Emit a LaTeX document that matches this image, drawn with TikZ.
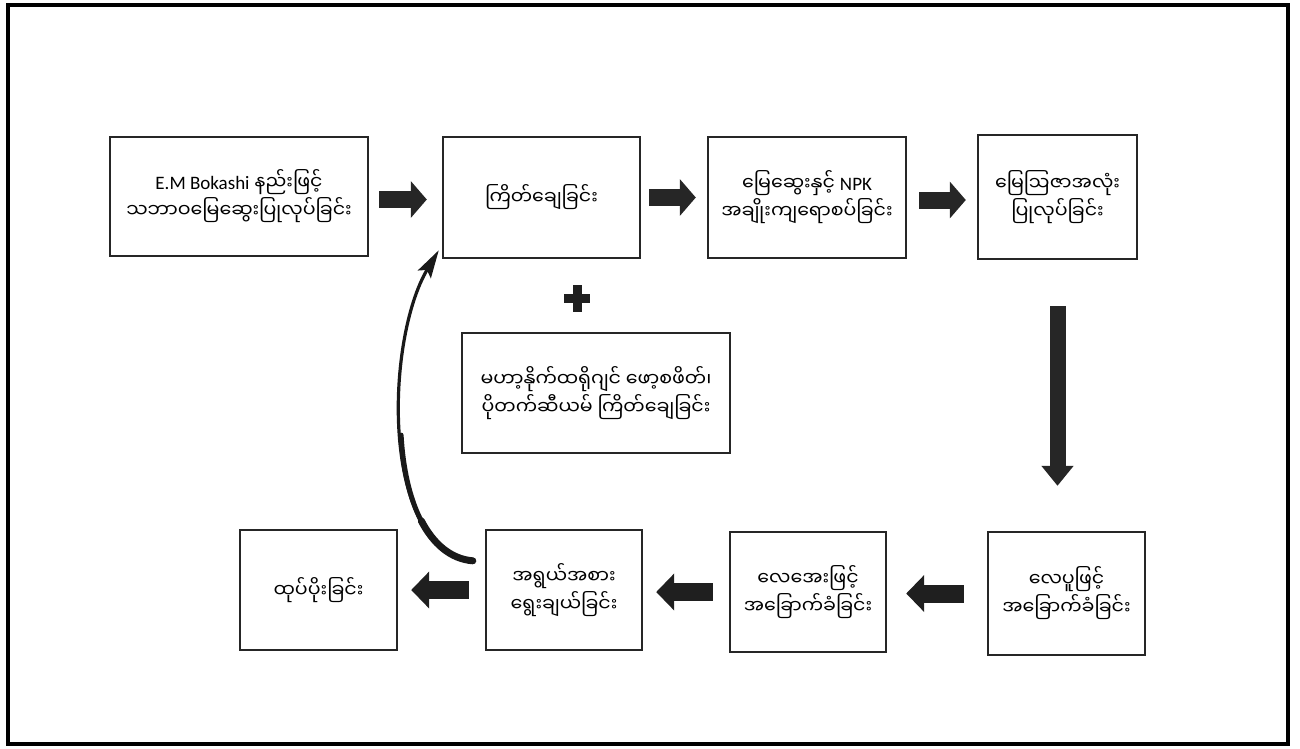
\documentclass[tikz,border=0pt]{standalone}
\usepackage{fontspec}
\setmainfont{Carlito}
\newfontfamily\my[Script=Myanmar]{Noto Sans Myanmar UI}
\newfontfamily\lat{Carlito}
\usetikzlibrary{arrows.meta}
\begin{document}
\begin{tikzpicture}[x=1pt,y=-1pt,
  stepbox/.style={draw=black!85, line width=2.4pt, fill=white, align=center,
    inner sep=0pt, font=\my\fontsize{19}{28}\selectfont},
  blockarrow/.style={draw=black!85, line width=17pt,
    -{Triangle[length=16pt 0,width=36pt 0]}},
  downarrow/.style={draw=black!85, line width=16pt,
    -{Triangle[length=20pt 0,width=31pt 0]}},
  backarrow/.style={draw=black!88, line width=18pt,
    -{Triangle[length=18pt 0,width=36pt 0]}},
  curvearrow/.style={draw=black!90, line width=3.2pt,
    -{Stealth[length=28pt 0,width=15pt 0,inset=5pt]}},
  curvethick/.style={draw=black!90, line cap=round}
]
\useasboundingbox (0,0) rectangle (1300,748);
\draw[line width=4pt, black] (7.5,4.5) rectangle (1288,744);

\node[stepbox, minimum width=258, minimum height=119] (b1) at (239,196.5)
  {{\lat E.M Bokashi} နည်းဖြင့်\\သဘာဝမြေဆွေးပြုလုပ်ခြင်း};
\node[stepbox, minimum width=197, minimum height=121] (b2) at (541.5,197.5)
  {ကြိတ်ချေခြင်း};
\node[stepbox, minimum width=198, minimum height=121] (b3) at (807,197.5)
  {မြေဆွေးနှင့် {\lat NPK}\\အချိုးကျရောစပ်ခြင်း};
\node[stepbox, minimum width=159, minimum height=124] (b4) at (1057.5,197)
  {မြေဩဇာအလုံး\\ပြုလုပ်ခြင်း};
\node[stepbox, minimum width=157, minimum height=123] (b5) at (1066.5,593.5)
  {လေပူဖြင့်\\အခြောက်ခံခြင်း};
\node[stepbox, minimum width=156, minimum height=120] (b6) at (808,592)
  {လေအေးဖြင့်\\အခြောက်ခံခြင်း};
\node[stepbox, minimum width=156, minimum height=120] (b7) at (564,590)
  {အရွယ်အစား\\ရွေးချယ်ခြင်း};
\node[stepbox, minimum width=157, minimum height=120] (b8) at (318.5,590)
  {ထုပ်ပိုးခြင်း};
\node[stepbox, minimum width=268, minimum height=120] (bm) at (596,393)
  {မဟာ့နိုက်ထရိုဂျင် ဖော့စဖိတ်၊\\ပိုတက်ဆီယမ် ကြိတ်ချေခြင်း};

% plus sign
\fill[black!88] (564,294) rectangle (590,303);
\fill[black!88] (572.5,285) rectangle (581.5,312);

% forward arrows
\draw[blockarrow] ([shift={(10pt,-3pt)}]b1.east) -- ([shift={(-15pt,-2pt)}]b2.west);
\draw[blockarrow] ([xshift=8pt]b2.east) -- ([xshift=-11pt]b3.west);
\draw[blockarrow] ([shift={(12pt,-2.5pt)}]b3.east) -- ([shift={(-11pt,-3pt)}]b4.west);
\draw[downarrow] ([yshift=-46pt]b4.south) -- ([yshift=45pt]b4.south |- b5.north);
% backward arrows
\draw[backarrow] ([xshift=-23pt]b5.west) -- ([xshift=19pt]b6.east |- b5.west);
\draw[backarrow] ([xshift=-16pt]b6.west) -- ([xshift=13pt]b7.east |- b6.west);
\draw[backarrow] ([xshift=-16pt]b7.west) -- ([xshift=13pt]b8.east |- b7.west);
% return curve
\coordinate (cs) at ([shift={(-12pt,-32pt)}]b7.north west);
\coordinate (ce) at ([shift={(-3pt,9pt)}]b2.south west);
\draw[curvearrow] (cs) .. controls (380,550) and (385,340) .. (ce);
\draw[curvethick, line width=5pt] (cs) .. controls (427,556) and (404.75,500.5) .. (401.1,435.1);
\draw[curvethick, line width=7pt] (cs) .. controls (450.5,559) and (433.2,543.6) .. (421.3,520.8);
\end{tikzpicture}
\end{document}
